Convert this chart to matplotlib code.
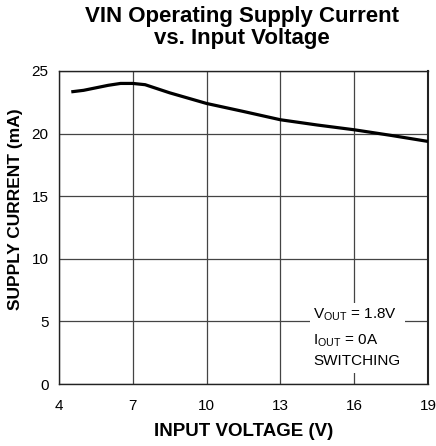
import matplotlib
matplotlib.use("Agg")
import matplotlib.pyplot as plt
import matplotlib.patches as patches

plt.rcParams['font.family'] = ['Liberation Sans', 'DejaVu Sans']
plt.rcParams['mathtext.fontset'] = 'custom'
plt.rcParams['mathtext.rm'] = 'Liberation Sans'

# data
input_voltage = [4.5, 5.0, 5.5, 6.0, 6.5, 7.0, 7.5, 8.5, 10.0, 11.5, 13.0, 14.5, 16.0, 17.5, 19.0]
supply_current = [23.33, 23.45, 23.65, 23.85, 24.0, 24.0, 23.9, 23.25, 22.4, 21.76, 21.1, 20.68, 20.3, 19.85, 19.37]

x_ticks = [4, 7, 10, 13, 16, 19]
y_ticks = [0, 5, 10, 15, 20, 25]

fig = plt.figure(figsize=(4.36, 4.46), dpi=100)
ax = fig.add_axes([0.1353, 0.139, 0.8464, 0.702])

ax.plot(input_voltage, supply_current, color="#000000", linewidth=2.3, zorder=4,
        solid_capstyle='butt')

ax.set_xlim(4, 19)
ax.set_ylim(0, 25)
ax.set_xticks(x_ticks)
ax.set_yticks(y_ticks)
ax.tick_params(axis='both', length=0, labelsize=11)
ax.tick_params(axis='x', pad=11)
ax.tick_params(axis='y', pad=7.5)
ax.grid(True, color="#444444", linewidth=0.9, zorder=1)
ax.set_axisbelow(True)
for s in ax.spines.values():
    s.set_color("#222222")
    s.set_linewidth(1.0)
ax.spines['right'].set_linewidth(1.5)

ax.set_xlabel("INPUT VOLTAGE (V)", fontsize=13.5, fontweight='bold', va='center')
ax.set_ylabel("SUPPLY CURRENT (mA)", fontsize=12.5, fontweight='bold', va='center')
ax.xaxis.set_label_coords(0.5, -0.153)
ax.yaxis.set_label_coords(-0.1165, 0.557)
fig.suptitle("VIN Operating Supply Current\nvs. Input Voltage", fontsize=16,
             fontweight='bold', x=0.555, y=0.987, va='top', linespacing=1.05)

# conditions box
ax.add_patch(patches.Rectangle((0.680, 0.035), 0.258, 0.223, transform=ax.transAxes,
                               facecolor='white', edgecolor='none', zorder=3))
notes = [r"V$_{\mathrm{OUT}}$ = 1.8V", r"I$_{\mathrm{OUT}}$ = 0A", "SWITCHING"]
note_y = [0.220, 0.140, 0.073]
for t, yy in zip(notes, note_y):
    ax.text(0.688, yy, t, transform=ax.transAxes, fontsize=11,
            ha='left', va='center', zorder=5)

plt.savefig("out.png", dpi=100)
